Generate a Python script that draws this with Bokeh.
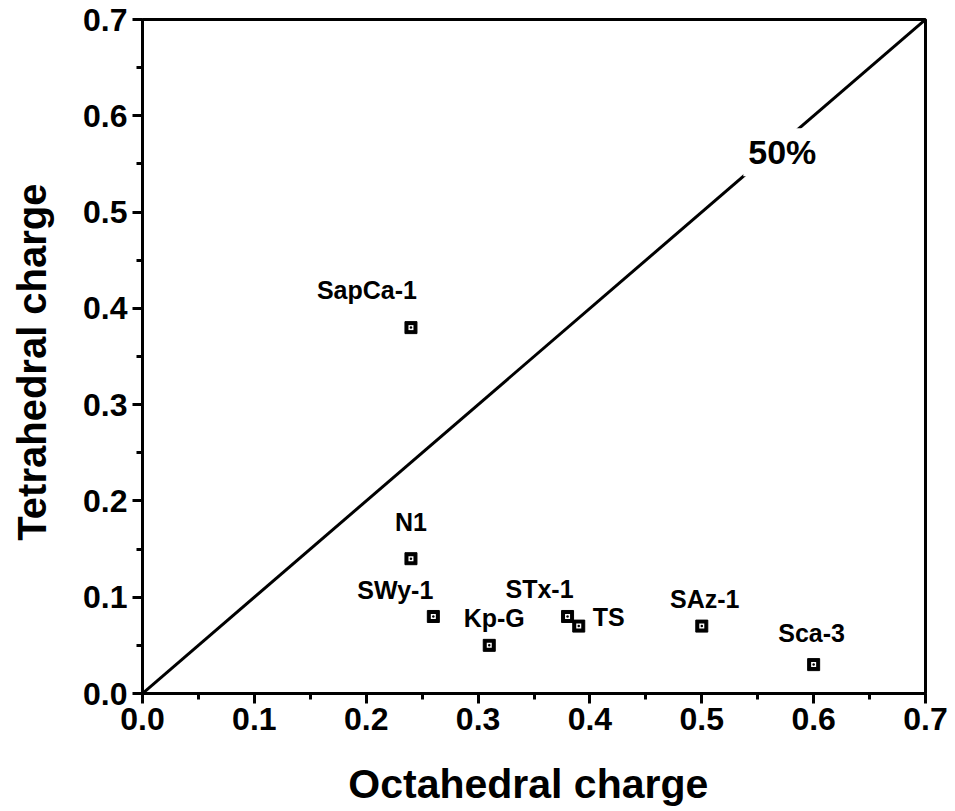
from bokeh.plotting import figure
from bokeh.models import Range1d, FixedTicker, Label, ColumnDataSource
from bokeh.core.properties import value
from bokeh.embed import file_html
from bokeh.resources import INLINE

# Layer-charge data for the smectite samples
samples = ["SapCa-1", "N1", "SWy-1", "Kp-G", "STx-1", "TS", "SAz-1", "Sca-3"]
octahedral = [0.24, 0.24, 0.26, 0.31, 0.38, 0.39, 0.50, 0.60]
tetrahedral = [0.38, 0.14, 0.08, 0.05, 0.08, 0.07, 0.07, 0.03]

# 50 % line: equal tetrahedral and octahedral charge
line_x = [0.0, 0.7]
line_y = [0.0, 0.7]

ticks = [0.0, 0.1, 0.2, 0.3, 0.4, 0.5, 0.6, 0.7]
tick_labels = ["0.0", "0.1", "0.2", "0.3", "0.4", "0.5", "0.6", "0.7"]
minor = [0.05, 0.15, 0.25, 0.35, 0.45, 0.55, 0.65]

# screen offsets of each sample's name relative to its marker
label_dx = [-44, 0, -38, 5, -28, 14, 3, -2]
label_dy = [-38, -37, -26, -27, -27, -9, -27, -32]
label_align = ["center", "center", "center", "center", "center", "left", "center", "center"]

FONT = "Liberation Sans"

p = figure(width=955, height=811, output_backend="svg", toolbar_location=None,
           x_range=Range1d(0, 0.7), y_range=Range1d(0, 0.7),
           min_border_left=142, min_border_right=30, min_border_top=19,
           min_border_bottom=118)
p.grid.visible = False
p.outline_line_color = "black"
p.outline_line_width = 3
p.background_fill_color = "white"
p.border_fill_color = "white"

for ax in (p.xaxis[0], p.yaxis[0]):
    ax.ticker = FixedTicker(ticks=ticks, minor_ticks=minor)
    ax.major_label_overrides = {t: s for t, s in zip(ticks, tick_labels)}
    ax.axis_line_width = 3
    ax.major_tick_line_width = 3
    ax.minor_tick_line_width = 3
    ax.major_tick_in = 0
    ax.major_tick_out = 10
    ax.minor_tick_in = 0
    ax.minor_tick_out = 6
    ax.major_label_text_font = FONT
    ax.major_label_text_font_style = "bold"
    ax.major_label_text_font_size = "32px"
    ax.major_label_text_color = "black"
    ax.axis_label_text_font = FONT
    ax.axis_label_text_font_style = "bold"
    ax.axis_label_text_color = "black"

p.xaxis.axis_label = "Octahedral  charge"
p.yaxis.axis_label = "Tetrahedral  charge"
p.xaxis.axis_label_text_font_size = "41px"
p.yaxis.axis_label_text_font_size = "40px"
p.xaxis.major_label_standoff = 4
p.yaxis.major_label_standoff = 5
p.xaxis.axis_label_standoff = 28
p.yaxis.axis_label_standoff = 26

p.line(line_x, line_y, line_color="black", line_width=3)

p.add_layout(Label(x=0.572, y=0.562, text="50%", text_align="center",
                   text_baseline="middle", text_font=FONT, text_font_size="34px",
                   text_font_style="bold", text_color="black",
                   background_fill_color="white", padding=5))

src = ColumnDataSource(dict(x=octahedral, y=tetrahedral, name=samples,
                            dx=label_dx, dy=label_dy, align=label_align))

p.scatter("x", "y", source=src, marker="square", size=12,
          fill_color="black", line_color="black", line_width=1)
p.scatter("x", "y", source=src, marker="square", size=5,
          fill_color="white", line_color=None)
p.scatter("x", "y", source=src, marker="circle", size=2.5,
          fill_color="black", line_color=None)

p.text("x", "y", text="name", source=src, x_offset="dx", y_offset="dy",
       text_align="align", text_baseline="middle", text_font_style="bold",
       text_font=value(FONT), text_font_size="25px", text_color="black")

open("out.html", "w").write(file_html(p, INLINE))
